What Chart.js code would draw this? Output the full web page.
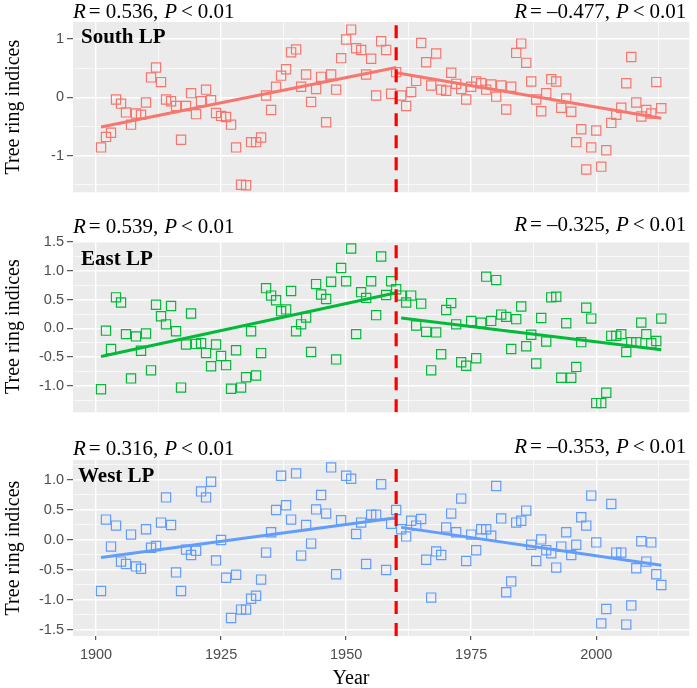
<!DOCTYPE html>
<html>
<head>
<meta charset="utf-8">
<title>Tree ring indices</title>
<script src="https://cdn.jsdelivr.net/npm/chart.js@4.4.1/dist/chart.umd.min.js"></script>
<style>
  html, body { margin: 0; padding: 0; background: #fff; }
  body { width: 697px; height: 688px; position: relative; overflow: hidden; }
  .panel { position: absolute; left: 0; width: 697px; }
</style>
</head>
<body>
<div class="panel" style="top:0;height:200px"><canvas id="south"></canvas></div>
<div class="panel" style="top:200px;height:220px"><canvas id="east"></canvas></div>
<div class="panel" style="top:420px;height:268px"><canvas id="west"></canvas></div>
<script>
// one value per year, starting at firstYear
const firstYear = 1901;
const breakYear = 1960;

const south = [
  -0.86, -0.68, -0.61, -0.04, -0.11, -0.26, -0.47, -0.28, -0.30, -0.09,
   0.34,  0.51,  0.26, -0.04, -0.07, -0.15, -0.73, -0.15,  0.07, -0.29,
  -0.07,  0.13, -0.05, -0.27, -0.32, -0.34, -0.47, -0.86, -1.50, -1.51,
  -0.77, -0.77, -0.69,  0.03, -0.22,  0.18,  0.37,  0.48,  0.77,  0.82,
   0.18,  0.39, -0.08,  0.14,  0.35, -0.43,  0.39,  0.13,  0.67,  0.99,
   1.16,  0.84,  0.81,  0.39,  0.66,  0.03,  0.96,  0.81,  0.06,  0.43,
   0.03, -0.15,  0.09,  0.28,  0.93,  0.60,  0.20,  0.75,  0.13,  0.11,
   0.42,  0.23,  0.14, -0.04,  0.18,  0.27,  0.24,  0.13,  0.22,  0.01,
   0.20, -0.21,  0.18,  0.76,  0.92,  0.59,  0.27, -0.04, -0.24,  0.07,
   0.31,  0.27, -0.18, -0.02, -0.25, -0.77, -0.55, -1.24, -0.86, -0.57,
  -1.19, -0.91, -0.44, -0.30, -0.18,  0.24,  0.69, -0.09, -0.33, -0.22,
  -0.28,  0.26, -0.19
];
const east = [
  -1.06, -0.04, -0.36,  0.54,  0.45, -0.10, -0.87, -0.14, -0.39, -0.09,
  -0.73,  0.41,  0.21,  0.07,  0.39, -0.05, -1.03, -0.28,  0.26, -0.27,
  -0.26, -0.43, -0.66, -0.28, -0.48, -0.64, -1.05, -0.38, -1.03, -0.85,
  -0.05, -0.82, -0.43,  0.70,  0.57,  0.49,  0.30,  0.33,  0.65, -0.05,
   0.07,  0.19, -0.41,  0.77,  0.59,  0.51,  0.81, -0.54,  1.05,  0.82,
   1.39, -0.10,  0.63,  0.53,  0.82,  0.23,  1.25,  0.58,  0.82,  0.68,
   0.57,  0.45,  0.57,  0.05,  0.43, -0.06, -0.73, -0.07, -0.45,  0.32,
   0.44,  0.07, -0.59, -0.65,  0.13, -0.52,  0.10,  0.90,  0.13,  0.84,
   0.24,  0.20, -0.36,  0.16,  0.38, -0.31, -0.11, -0.61,  0.18, -0.23,
   0.54,  0.55, -0.86,  0.09, -0.86, -0.67, -0.24,  0.36,  0.17, -1.30,
  -1.30, -1.12, -0.13, -0.13, -0.10, -0.41, -0.24, -0.24,  0.10, -0.10,
  -0.26, -0.22,  0.17
];
const west = [
  -0.85,  0.34, -0.11,  0.24, -0.36, -0.40,  0.09, -0.44, -0.48,  0.18,
  -0.13, -0.10,  0.29,  0.71,  0.25, -0.54, -0.85, -0.16, -0.25, -0.18,
   0.81,  0.71,  0.97, -0.34,  0.00, -0.63, -1.30, -0.58, -1.16, -1.16,
  -0.98, -0.93, -0.66, -0.21,  0.13,  0.50,  1.07,  0.58,  0.34,  1.11,
  -0.26,  0.25, -0.06,  0.51,  0.75,  0.44,  1.21, -0.57,  0.33,  1.07,
   1.02,  0.10,  0.29, -0.40,  0.42,  0.42,  0.93, -0.50,  0.27,  0.50,
   0.18,  0.06,  0.32,  0.24,  0.35, -0.33, -0.96, -0.19, -0.25,  0.21,
   0.44,  0.13,  0.69, -0.35,  0.09, -0.17,  0.18,  0.18,  0.07,  0.90,
   0.36, -0.87, -0.69,  0.29,  0.32,  0.49, -0.08, -0.35,  0.01, -0.17,
  -0.22, -0.46, -0.11,  0.13, -0.25, -0.08,  0.38,  0.24,  0.74, -0.04,
  -1.39, -1.15,  0.60, -0.21, -0.21, -1.41, -1.09, -0.47, -0.02, -0.36,
  -0.04, -0.57, -0.75
];

// fitted trend ends: [year, value] for before and after the break
const southTrend = [[[1901, -0.51], [1960, 0.51]], [[1960, 0.42], [2013, -0.36]]];
const eastTrend  = [[[1901, -0.49], [1960, 0.62]], [[1961, 0.18], [2013, -0.37]]];
const westTrend  = [[[1901, -0.29], [1960, 0.37]], [[1961, 0.21], [2013, -0.42]]];

const southR = ['0.536', '\u20130.477'];
const eastR  = ['0.539', '\u20130.325'];
const westR  = ['0.316', '\u20130.353'];

const xMajor = [1900, 1925, 1950, 1975, 2000];
const xMinor = [1912.5, 1937.5, 1962.5, 1987.5, 2012.5];
const southMajor = [-1, 0, 1];
const southMinor = [-1.5, -0.5, 0.5];
const eastMajor = [-1, -0.5, 0, 0.5, 1, 1.5];
const eastMinor = [-1.25, -0.75, -0.25, 0.25, 0.75, 1.25];
const westMajor = [-1.5, -1, -0.5, 0, 0.5, 1];
const westMinor = [-1.25, -0.75, -0.25, 0.25, 0.75, 1.25];

const serif = '"Liberation Serif", "Times New Roman", serif';
const sans = '"Liberation Sans", Arial, sans-serif';

function drawStat(ctx, value, x, y, align) {
  // R = value, P < 0.01 with italic R and P
  const parts = [['R', true, 3], ['=', false, 5], [value + ',', false, 6], ['P', true, 4], ['<', false, 5], ['0.01', false, 0]];
  const fontOf = it => (it ? 'italic ' : '') + '21px ' + serif;
  let total = 0;
  parts.forEach(p => { ctx.font = fontOf(p[1]); total += ctx.measureText(p[0]).width + p[2]; });
  let cx = align == 'right' ? x - total : x;
  ctx.textAlign = 'left';
  parts.forEach(p => {
    ctx.font = fontOf(p[1]);
    ctx.fillText(p[0], cx, y);
    cx += ctx.measureText(p[0]).width + p[2];
  });
}

const panelText = {
  id: 'panelText',
  beforeDraw(chart) {
    const a = chart.chartArea;
    const ctx = chart.ctx;
    ctx.save();
    ctx.fillStyle = '#ebebeb';
    ctx.fillRect(a.left, a.top, a.right - a.left, a.bottom - a.top);
    ctx.restore();
  },
  afterDraw(chart, args, opts) {
    const a = chart.chartArea;
    const ctx = chart.ctx;
    ctx.save();
    ctx.fillStyle = '#000';
    ctx.textBaseline = 'middle';
    drawStat(ctx, opts.r[0], a.left, a.top + opts.dy[0], 'left');
    drawStat(ctx, opts.r[1], a.right - 3, a.top + opts.dy[1], 'right');
    ctx.font = 'bold 21px ' + serif;
    ctx.textAlign = 'left';
    ctx.fillText(opts.name, a.left + opts.nameX, a.top + opts.nameY);
    if (opts.xTitle) {
      ctx.font = '20px ' + serif;
      ctx.textAlign = 'center';
      ctx.fillText(opts.xTitle, 351, a.bottom + 43);
    }
    ctx.restore();
  }
};

function makePanel(id, p) {
  const pts = p.values.map((v, i) => ({x: firstYear + i, y: v}));
  const seg = s => s.map(d => ({x: d[0], y: d[1]}));
  const isX = c => c.tick && xMajor.includes(c.tick.value);
  const isY = c => c.tick && p.major.includes(c.tick.value);
  return new Chart(document.getElementById(id), {
    type: 'scatter',
    data: {
      datasets: [
        {data: [{x: breakYear, y: p.min}, {x: breakYear, y: p.max}], showLine: true, borderColor: '#ff0000', borderWidth: 3.2, borderDash: [13, 9], pointRadius: 0},
        {data: seg(p.trend[0]), showLine: true, borderColor: p.color, borderWidth: 3, pointRadius: 0},
        {data: seg(p.trend[1]), showLine: true, borderColor: p.color, borderWidth: 3, pointRadius: 0},
        {data: pts, pointStyle: 'rect', pointRadius: 6.5, pointBorderWidth: 1.2,
         pointBorderColor: p.color, pointBackgroundColor: 'rgba(0,0,0,0)'}
      ]
    },
    options: {
      responsive: true,
      maintainAspectRatio: false,
      animation: false,
      layout: {padding: p.pad},
      plugins: {
        legend: {display: false},
        tooltip: {enabled: false},
        panelText: {r: p.r, dy: p.dy, name: p.name, nameX: p.nameX, nameY: p.nameY, xTitle: p.bottom ? 'Year' : ''}
      },
      scales: {
        x: {
          type: 'linear', min: 1895.4, max: 2018.6, bounds: 'data',
          afterBuildTicks: s => { s.ticks = xMajor.concat(xMinor).sort((a, b) => a - b).map(v => ({value: v})); },
          afterFit: s => { s.height = p.bottom ? 52 : 0; s.paddingLeft = 0; s.paddingRight = 0; },
          border: {display: false},
          grid: {
            color: '#ffffff',
            lineWidth: c => isX(c) ? 1.4 : 0.7,
            drawTicks: p.bottom,
            tickLength: 4,
            tickWidth: 1,
            tickColor: c => isX(c) ? '#333333' : 'rgba(0,0,0,0)'
          },
          ticks: {
            display: p.bottom, autoSkip: false, maxRotation: 0, padding: 6,
            color: '#4d4d4d', font: {family: sans, size: 14.5},
            callback: v => xMajor.includes(v) ? String(v) : ''
          }
        },
        y: {
          min: p.min, max: p.max, bounds: 'data',
          afterBuildTicks: s => { s.ticks = p.major.concat(p.minor).sort((a, b) => a - b).map(v => ({value: v})); },
          afterFit: s => { s.width = 73; s.paddingTop = 0; s.paddingBottom = 0; },
          border: {display: false},
          grid: {
            color: '#ffffff',
            lineWidth: c => isY(c) ? 1.4 : 0.7,
            tickLength: 6,
            tickWidth: 1,
            tickColor: c => isY(c) ? '#333333' : 'rgba(0,0,0,0)'
          },
          ticks: {
            autoSkip: false, padding: 3,
            color: '#4d4d4d', font: {family: sans, size: 14.5},
            callback: v => p.major.includes(v) ? v.toFixed(p.dec) : ''
          },
          title: {
            display: true, text: 'Tree ring indices', color: '#000',
            font: {family: serif, size: 20, lineHeight: 1.2},
            padding: {top: 2, bottom: 0}
          }
        }
      }
    },
    plugins: [panelText]
  });
}

makePanel('south', {
  values: south, trend: southTrend, color: '#F8766D', r: southR, name: 'South LP',
  min: -1.63, max: 1.29, major: southMajor, minor: southMinor, dec: 0,
  pad: {top: 22, right: 7, bottom: 3, left: 0}, dy: [-10, -10], nameX: 8, nameY: 16, bottom: false
});
makePanel('east', {
  values: east, trend: eastTrend, color: '#00BA38', r: eastR, name: 'East LP',
  min: -1.46, max: 1.52, major: eastMajor, minor: eastMinor, dec: 1,
  pad: {top: 41, right: 7, bottom: 4, left: 0}, dy: [-14, -16], nameX: 8, nameY: 19, bottom: false
});
makePanel('west', {
  values: west, trend: westTrend, color: '#619CFF', r: westR, name: 'West LP',
  min: -1.6, max: 1.333, major: westMajor, minor: westMinor, dec: 1,
  pad: {top: 40, right: 7, bottom: 0, left: 0}, dy: [-11, -13], nameX: 5, nameY: 17, bottom: true
});
</script>
</body>
</html>
